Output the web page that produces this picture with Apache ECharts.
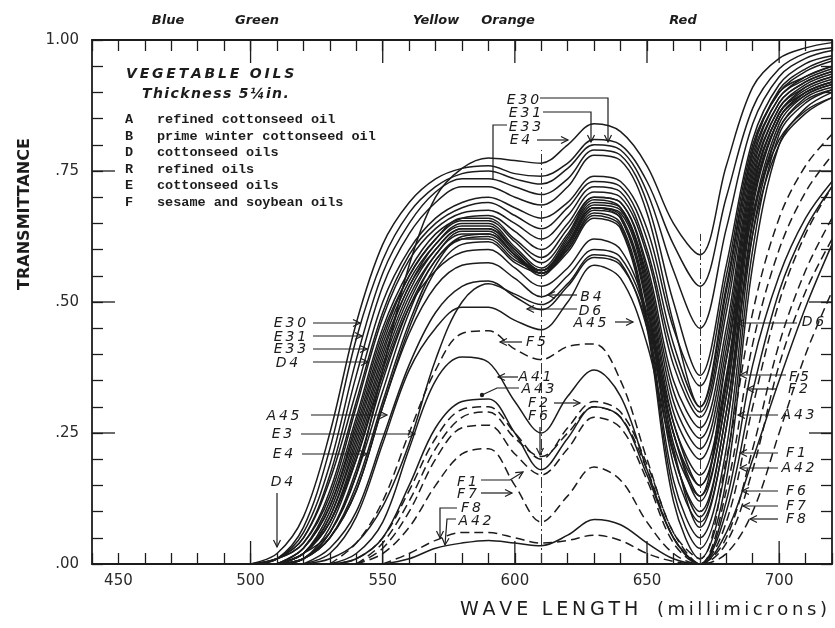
<!DOCTYPE html>
<html>
<head>
<meta charset="utf-8">
<script src="https://cdn.jsdelivr.net/npm/echarts/dist/echarts.min.js"></script>
<style>
html, body { margin: 0; padding: 0; background: #fff; }
#chart { width: 835px; height: 628px; }
</style>
</head>
<body>
<div id="chart"></div>
<script>
// wavelength grid (millimicrons) shared by every curve
var wavelengths = [500,510,520,530,540,550,560,570,580,590,600,610,620,630,640,650,660,670,680,690,700,710,720];

var xTickLabels = ['450','500','550','600','650','700'];
var yTickValues = [0, 0.25, 0.5, 0.75, 1];
var yTickLabels = ['.00', '.25', '.50', '.75', '1.00'];

var bandNames = ['Blue', 'Green', 'Yellow', 'Orange', 'Red'];
var legendKeys = ['A', 'B', 'D', 'R', 'E', 'F'];
var legendNames = ['refined cottonseed oil', 'prime winter cottonseed oil', 'cottonseed oils',
    'refined oils', 'cottonseed oils', 'sesame and soybean oils'];

// reference wavelengths (dash-dot verticals) and how high they reach
var refLines = [610, 670];
var refTops = [0.79, 0.63];

// --- transmittance curves ---
// high group
var E4  = [null,0.00,0.02,0.06,0.17,0.37,0.57,0.70,0.755,0.775,0.77,0.765,0.80,0.84,0.825,0.76,0.65,0.59,0.76,0.91,0.965,0.985,0.995];
var E30 = [0.00,0.02,0.09,0.25,0.46,0.61,0.69,0.735,0.755,0.76,0.745,0.74,0.765,0.81,0.80,0.73,0.61,0.53,0.70,0.87,0.945,0.975,0.985];
var E31 = [0.00,0.01,0.07,0.22,0.43,0.58,0.67,0.72,0.745,0.75,0.735,0.725,0.755,0.80,0.79,0.71,0.56,0.45,0.64,0.84,0.93,0.965,0.98];
var E33 = [0.00,0.01,0.06,0.19,0.39,0.555,0.65,0.71,0.735,0.735,0.72,0.705,0.735,0.79,0.78,0.69,0.50,0.36,0.57,0.81,0.915,0.955,0.97];
var D4  = [0.00,0.01,0.05,0.17,0.36,0.53,0.63,0.69,0.72,0.72,0.70,0.685,0.72,0.78,0.77,0.67,0.46,0.30,0.53,0.79,0.905,0.945,0.965];
// dense middle band
var M1  = [0.00,0.01,0.05,0.16,0.33,0.50,0.60,0.66,0.69,0.70,0.68,0.66,0.69,0.74,0.73,0.64,0.45,0.34,0.55,0.80,0.90,0.94,0.96];
var M2  = [0.00,0.01,0.04,0.14,0.31,0.48,0.59,0.65,0.68,0.69,0.665,0.64,0.68,0.73,0.72,0.62,0.42,0.30,0.52,0.79,0.90,0.93,0.95];
var M3  = [0.00,0.01,0.04,0.13,0.30,0.47,0.58,0.64,0.67,0.675,0.65,0.62,0.665,0.72,0.71,0.60,0.40,0.29,0.50,0.78,0.89,0.93,0.95];
var M4  = [null,0.00,0.03,0.12,0.28,0.45,0.56,0.63,0.66,0.665,0.635,0.60,0.65,0.71,0.70,0.59,0.38,0.28,0.48,0.77,0.89,0.925,0.945];
var M5  = [null,0.00,0.03,0.11,0.27,0.44,0.55,0.62,0.66,0.66,0.62,0.585,0.64,0.70,0.69,0.57,0.35,0.26,0.45,0.76,0.88,0.92,0.94];
var M6  = [null,0.00,0.03,0.11,0.26,0.43,0.55,0.62,0.655,0.655,0.615,0.575,0.63,0.70,0.69,0.56,0.33,0.24,0.43,0.75,0.88,0.92,0.94];
var M7  = [null,0.00,0.02,0.10,0.25,0.42,0.54,0.61,0.65,0.65,0.605,0.565,0.625,0.695,0.68,0.55,0.31,0.22,0.41,0.74,0.87,0.915,0.935];
var M8  = [null,0.00,0.02,0.09,0.24,0.41,0.53,0.61,0.645,0.645,0.60,0.56,0.62,0.69,0.68,0.54,0.29,0.20,0.39,0.73,0.87,0.91,0.93];
var M9  = [null,0.00,0.02,0.09,0.23,0.40,0.53,0.60,0.64,0.64,0.60,0.56,0.615,0.685,0.675,0.53,0.27,0.17,0.36,0.72,0.86,0.91,0.93];
var M10 = [null,0.00,0.02,0.08,0.22,0.39,0.52,0.60,0.64,0.64,0.595,0.555,0.61,0.68,0.67,0.52,0.25,0.15,0.34,0.71,0.86,0.905,0.925];
var M11 = [null,0.00,0.02,0.08,0.21,0.38,0.51,0.59,0.635,0.635,0.59,0.55,0.61,0.68,0.665,0.51,0.23,0.13,0.32,0.70,0.85,0.90,0.92];
var M12 = [null,0.00,0.01,0.07,0.20,0.37,0.50,0.59,0.63,0.63,0.59,0.555,0.605,0.675,0.66,0.50,0.21,0.10,0.29,0.68,0.85,0.90,0.92];
var M13 = [null,0.00,0.01,0.06,0.18,0.35,0.49,0.58,0.625,0.63,0.59,0.56,0.61,0.68,0.66,0.49,0.19,0.08,0.26,0.66,0.84,0.895,0.915];
var M14 = [null,0.00,0.01,0.06,0.17,0.33,0.48,0.58,0.62,0.625,0.585,0.555,0.60,0.67,0.65,0.47,0.16,0.05,0.22,0.63,0.83,0.89,0.91];
var M15 = [null,0.00,0.01,0.05,0.15,0.31,0.46,0.57,0.62,0.62,0.58,0.56,0.60,0.665,0.645,0.46,0.14,0.03,0.19,0.60,0.82,0.88,0.905];
var M16 = [null,0.00,0.01,0.05,0.14,0.30,0.45,0.56,0.61,0.615,0.575,0.555,0.595,0.66,0.64,0.45,0.12,0.01,0.16,0.57,0.80,0.87,0.90];
// lower solid humps
var B4  = [null,0.00,0.01,0.05,0.14,0.30,0.44,0.53,0.57,0.575,0.545,0.51,0.55,0.60,0.585,0.47,0.25,0.12,0.32,0.69,0.85,0.895,0.915];
var D6  = [null,null,0.00,0.03,0.10,0.24,0.38,0.48,0.53,0.54,0.51,0.485,0.53,0.585,0.57,0.46,0.25,0.13,0.39,0.67,0.81,0.865,0.89];
var A45 = [null,null,0.00,0.02,0.09,0.23,0.37,0.45,0.49,0.49,0.465,0.447,0.50,0.57,0.545,0.42,0.21,0.09,0.29,0.63,0.80,0.86,0.89];
var E3  = [null,null,0.00,0.01,0.04,0.11,0.23,0.39,0.50,0.535,0.515,0.495,0.535,0.59,0.575,0.45,0.22,0.07,0.26,0.65,0.83,0.885,0.905];
var C5  = [null,0.00,0.02,0.08,0.20,0.36,0.49,0.56,0.595,0.60,0.565,0.53,0.565,0.62,0.60,0.48,0.27,0.15,0.35,0.71,0.86,0.90,0.92];
// low group (A solid, F dashed)
var F5  = [null,null,null,0.00,0.04,0.12,0.25,0.37,0.44,0.445,0.41,0.39,0.415,0.42,0.35,0.20,0.06,0.01,0.20,0.48,0.66,0.76,0.82];
var A41 = [null,null,null,0.00,0.02,0.08,0.22,0.35,0.395,0.385,0.31,0.25,0.32,0.37,0.32,0.18,0.05,0.00,0.10,0.33,0.52,0.64,0.72];
var A43 = [null,null,null,0.00,0.01,0.05,0.15,0.26,0.31,0.315,0.25,0.18,0.24,0.30,0.28,0.17,0.05,0.00,0.12,0.38,0.55,0.66,0.73];
var F2  = [null,null,null,0.00,0.01,0.05,0.14,0.24,0.295,0.30,0.25,0.20,0.26,0.31,0.29,0.19,0.06,0.00,0.14,0.42,0.60,0.71,0.78];
var F6  = [null,null,null,null,0.00,0.04,0.12,0.22,0.28,0.29,0.24,0.205,0.25,0.30,0.28,0.18,0.05,0.00,0.05,0.22,0.42,0.56,0.66];
var F1  = [null,null,null,null,0.00,0.03,0.10,0.20,0.26,0.265,0.21,0.17,0.22,0.28,0.26,0.16,0.04,0.00,0.08,0.30,0.50,0.63,0.72];
var F7  = [null,null,null,null,0.00,0.02,0.07,0.15,0.21,0.22,0.15,0.08,0.13,0.185,0.16,0.08,0.02,0.00,0.04,0.18,0.38,0.52,0.62];
var F8  = [null,null,null,null,null,0.00,0.02,0.045,0.06,0.06,0.05,0.04,0.045,0.055,0.045,0.02,0.005,0.00,0.02,0.10,0.25,0.40,0.52];
var A42 = [null,null,null,null,null,0.00,0.01,0.03,0.04,0.045,0.04,0.035,0.055,0.085,0.075,0.04,0.01,0.00,0.06,0.20,0.35,0.49,0.61];

// name, values, dashed
var curves = [
    ['E4', E4, false], ['E30', E30, false], ['E31', E31, false], ['E33', E33, false], ['D4', D4, false],
    ['M1', M1, false], ['M2', M2, false], ['M3', M3, false], ['M4', M4, false], ['M5', M5, false],
    ['M6', M6, false], ['M7', M7, false], ['M8', M8, false], ['M9', M9, false], ['M10', M10, false],
    ['M11', M11, false], ['M12', M12, false], ['M13', M13, false], ['M14', M14, false], ['M15', M15, false],
    ['M16', M16, false],
    ['B4', B4, false], ['D6', D6, false], ['A45', A45, false], ['E3', E3, false], ['C5', C5, false],
    ['F5', F5, true], ['A41', A41, false], ['A43', A43, false], ['F2', F2, true], ['F6', F6, true],
    ['F1', F1, true], ['F7', F7, true], ['F8', F8, true], ['A42', A42, false]
];

// hand-lettered call-outs: label, label centre, leader path (pixels), end mark
var notes = [
    ['E30', 523, 100, [[540,98],[608,98],[608,142]], 'arrow'],
    ['E31', 525, 113, [[543,112],[591,112],[591,142]], 'arrow'],
    ['E33', 525, 127, [[507,125],[493,125],[493,180]], 'none'],
    ['E4', 520, 140, [[537,140],[568,140]], 'arrow'],
    ['E30', 290, 323, [[313,323],[360,323]], 'arrow'],
    ['E31', 290, 337, [[313,336],[362,336]], 'arrow'],
    ['E33', 290, 349, [[313,349],[367,349]], 'arrow'],
    ['D4', 287, 363, [[313,362],[368,362]], 'arrow'],
    ['A45', 283, 416, [[311,415],[387,415]], 'arrow'],
    ['E3', 282, 434, [[301,434],[415,434]], 'arrow'],
    ['E4', 283, 454, [[302,454],[367,454]], 'arrow'],
    ['D4', 282, 482, [[277,493],[277,547]], 'arrow'],
    ['B4', 591, 297, [[577,295],[548,295]], 'arrow'],
    ['D6', 590, 311, [[577,309],[527,309]], 'arrow'],
    ['A45', 590, 323, [[615,322],[633,322]], 'arrow'],
    ['F5', 536, 342, [[522,342],[500,342]], 'arrow'],
    ['A41', 535, 377, [[518,377],[498,377]], 'arrow'],
    ['A43', 538, 389, [[519,388],[497,388],[482,395]], 'dot'],
    ['F2', 538, 403, [[554,403],[580,403]], 'arrow'],
    ['F6', 538, 416, [[540,427],[540,455]], 'arrow'],
    ['F1', 467, 482, [[481,480],[510,480],[523,472]], 'arrow'],
    ['F7', 467, 494, [[481,493],[512,493]], 'arrow'],
    ['F8', 471, 508, [[457,508],[440,508],[440,538]], 'arrow'],
    ['A42', 475, 521, [[456,519],[447,519],[445,545]], 'arrow'],
    ['D6', 813, 322, [[797,323],[737,323]], 'arrow'],
    ['F5', 799, 377, [[786,375],[740,375]], 'arrow'],
    ['F2', 798, 389, [[777,389],[747,389]], 'arrow'],
    ['A43', 798, 415, [[778,415],[738,415]], 'arrow'],
    ['F1', 796, 453, [[778,453],[740,453]], 'arrow'],
    ['A42', 798, 468, [[778,468],[740,468]], 'arrow'],
    ['F6', 796, 491, [[778,491],[742,491]], 'arrow'],
    ['F7', 796, 506, [[778,506],[743,506]], 'arrow'],
    ['F8', 796, 519, [[778,519],[750,519]], 'arrow']
];

var INK = '#1c1c1c';
var chart = echarts.init(document.getElementById('chart'));

function toPairs(vals) {
    var out = [];
    for (var i = 0; i < wavelengths.length; i++) {
        if (vals[i] !== null) out.push([wavelengths[i], vals[i]]);
    }
    return out;
}

function spaced(s, gap) {
    return s.split('').join(gap || '\u2009');
}

var series = curves.map(function (c) {
    return {
        name: c[0],
        type: 'line',
        data: toPairs(c[1]),
        symbol: 'none',
        smooth: 0.35,
        silent: true,
        z: 2,
        lineStyle: { color: INK, width: 1.5, type: c[2] ? [9, 5] : 'solid' }
    };
});

series[0].markLine = {
    silent: true,
    symbol: ['none', 'none'],
    label: { show: false },
    lineStyle: { color: '#333', width: 1, type: [11, 3, 2, 3] },
    data: refLines.map(function (x, i) {
        return [{ coord: [x, 0] }, { coord: [x, refTops[i]] }];
    })
};

var tickLine = { color: INK, width: 1.3 };
var axisFont = { fontFamily: 'DejaVu Sans', fontSize: 15, color: '#2a2a2a' };

var option = {
    backgroundColor: '#fff',
    animation: false,
    grid: { left: 92, right: 3, top: 40, bottom: 64, outerBoundsMode: 'none' },
    xAxis: [{
        type: 'value', min: 440, max: 720, interval: 10, position: 'bottom',
        axisLine: { show: true, onZero: false, lineStyle: { color: INK, width: 1.8 } },
        axisTick: { show: true, inside: true, length: 11, lineStyle: tickLine },
        axisLabel: Object.assign({
            margin: 10,
            formatter: function (v) {
                var s = String(Math.round(v));
                return xTickLabels.indexOf(s) >= 0 ? s : '';
            }
        }, axisFont),
        splitLine: { show: false }
    }, {
        type: 'value', min: 440, max: 720, interval: 10, position: 'top',
        axisLine: { show: true, onZero: false, lineStyle: { color: INK, width: 1.8 } },
        axisTick: { show: true, inside: true, length: 11, lineStyle: tickLine },
        axisLabel: { show: false },
        splitLine: { show: false }
    }],
    yAxis: [{
        type: 'value', min: 0, max: 1, interval: 0.05, position: 'left',
        axisLine: { show: true, onZero: false, lineStyle: { color: INK, width: 1.8 } },
        axisTick: { show: true, inside: true, length: 11, lineStyle: tickLine },
        axisLabel: Object.assign({
            margin: 13,
            formatter: function (v) {
                for (var i = 0; i < yTickValues.length; i++) {
                    if (Math.abs(v - yTickValues[i]) < 1e-6) return yTickLabels[i];
                }
                return '';
            }
        }, axisFont),
        splitLine: { show: false }
    }, {
        type: 'value', min: 0, max: 1, interval: 0.05, position: 'right',
        axisLine: { show: true, onZero: false, lineStyle: { color: INK, width: 1.8 } },
        axisTick: { show: true, inside: true, length: 11, lineStyle: tickLine },
        axisLabel: { show: false },
        splitLine: { show: false }
    }],
    series: series
};

chart.setOption(option);

// ---- overlay: long ticks, titles, inset text, call-outs ----
function px(x, y) {
    return chart.convertToPixel({ seriesIndex: 0 }, [x, y]);
}

var gfx = [];
var LONG = 23;
[500, 550, 600, 650, 700].forEach(function (x) {
    var b = px(x, 0), t = px(x, 1);
    gfx.push({ type: 'line', shape: { x1: b[0], y1: b[1], x2: b[0], y2: b[1] - LONG }, style: { stroke: INK, lineWidth: 1.3 } });
    gfx.push({ type: 'line', shape: { x1: t[0], y1: t[1], x2: t[0], y2: t[1] + LONG }, style: { stroke: INK, lineWidth: 1.3 } });
});
[0.25, 0.5, 0.75].forEach(function (y) {
    var l = px(440, y), r = px(720, y);
    gfx.push({ type: 'line', shape: { x1: l[0], y1: l[1], x2: l[0] + LONG, y2: l[1] }, style: { stroke: INK, lineWidth: 1.3 } });
    gfx.push({ type: 'line', shape: { x1: r[0], y1: r[1], x2: r[0] - LONG, y2: r[1] }, style: { stroke: INK, lineWidth: 1.3 } });
});

function text(str, x, y, font, align) {
    gfx.push({
        type: 'text', x: x, y: y, z: 20,
        style: Object.assign({ text: str, fill: INK, align: align || 'center', verticalAlign: 'middle' }, font)
    });
}

var letterFont = { fontFamily: 'DejaVu Sans', fontStyle: 'italic', fontWeight: 'bold', fontSize: 13 };
var bandX = [168, 257, 436, 508, 683];
bandNames.forEach(function (n, i) { text(n, bandX[i], 21, letterFont); });

var insetFont = { fontFamily: 'DejaVu Sans', fontStyle: 'italic', fontWeight: 'bold', fontSize: 14 };
text(spaced('VEGETABLE OILS'), 126, 74, insetFont, 'left');
text(spaced('Thickness 5\u00bcin.', '\u200A'), 142, 94, insetFont, 'left');

var monoFont = { fontFamily: 'Liberation Mono', fontSize: 13.5, fontWeight: 'bold' };
legendKeys.forEach(function (k, i) {
    var y = 120 + i * 16.5;
    text(k, 125, y, monoFont, 'left');
    text(legendNames[i], 157, y, monoFont, 'left');
});

// axis titles
gfx.push({
    type: 'text', x: 25, y: 214, rotation: Math.PI / 2, z: 20,
    style: { text: 'TRANSMITTANCE', fill: INK, align: 'center', verticalAlign: 'middle',
        fontFamily: 'DejaVu Sans', fontSize: 16, fontWeight: 'bold' }
});
text(spaced('WAVE LENGTH'), 460, 610, { fontFamily: 'DejaVu Sans', fontSize: 19 }, 'left');
text(spaced('(millimicrons)'), 657, 610, { fontFamily: 'DejaVu Sans', fontSize: 18 }, 'left');

// call-outs
var noteFont = { fontFamily: 'DejaVu Sans', fontStyle: 'italic', fontSize: 14 };
notes.forEach(function (n) {
    text(spaced(n[0]), n[1], n[2], noteFont);
    var path = n[3];
    gfx.push({ type: 'polyline', z: 20, shape: { points: path }, style: { stroke: INK, lineWidth: 1.2, fill: null } });
    var p = path[path.length - 1], q = path[path.length - 2];
    if (n[4] === 'arrow') {
        var dx = p[0] - q[0], dy = p[1] - q[1], len = Math.sqrt(dx * dx + dy * dy);
        dx /= len; dy /= len;
        var bx = p[0] - dx * 7, by = p[1] - dy * 7;
        gfx.push({
            type: 'polyline', z: 20,
            shape: { points: [[bx - dy * 3.5, by + dx * 3.5], p, [bx + dy * 3.5, by - dx * 3.5]] },
            style: { stroke: INK, lineWidth: 1.2, fill: null }
        });
    } else if (n[4] === 'dot') {
        gfx.push({ type: 'circle', z: 20, shape: { cx: p[0], cy: p[1], r: 2.2 }, style: { fill: INK } });
    }
});

chart.setOption({ graphic: gfx });
</script>
</body>
</html>
